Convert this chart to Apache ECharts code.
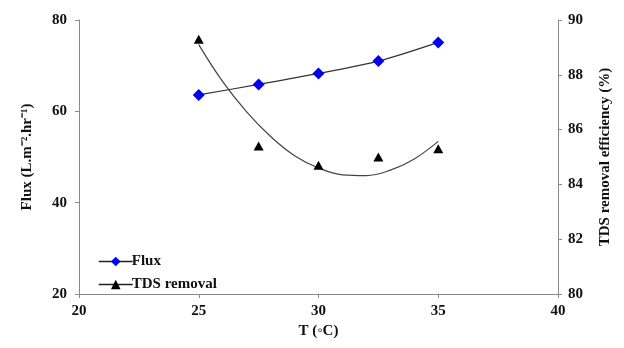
<!DOCTYPE html>
<html>
<head>
<meta charset="utf-8">
<script src="https://cdn.jsdelivr.net/npm/echarts@6/dist/echarts.min.js"></script>
<style>
  html, body { margin: 0; padding: 0; background: #fff; }
  #chart { width: 624px; height: 348px; }
</style>
</head>
<body>
<div id="chart"></div>
<script>
// Measured points (T in °C)
const temps = [25, 27.5, 30, 32.5, 35];
const flux = [63.6, 65.9, 68.3, 71.0, 75.1];
const tdsRemoval = [89.3, 85.4, 84.7, 85.0, 85.3];

// Trend curve for TDS removal
const trendTemps = [25, 26, 27, 28, 29, 30, 31, 32, 33, 34, 35];
const tdsTrend = [89.1, 87.75, 86.65, 85.75, 85.05, 84.6, 84.35, 84.32, 84.52, 84.93, 85.57];

const FONT = "'Liberation Serif', 'Times New Roman', serif";
const axisLine = { show: true, lineStyle: { color: "#8a8a8a", width: 1 } };
const axisTick = { show: true, length: 4, lineStyle: { color: "#8a8a8a" } };
const labelStyle = { color: "#111", fontFamily: FONT, fontWeight: "bold", fontSize: 15 };

const chart = echarts.init(document.getElementById("chart"));
chart.setOption({
  animation: false,
  grid: { left: 79, right: 66, top: 20, bottom: 54 },
  legend: {
    left: 93, top: 249, orient: "vertical", itemGap: 8,
    itemWidth: 34, itemHeight: 12,
    textStyle: { ...labelStyle, fontSize: 15, padding: [0, 0, 0, -6] },
    data: [
      { name: "Flux", lineStyle: { color: "#222", width: 1.5 } },
      { name: "TDS removal", lineStyle: { color: "#222", width: 1.5 } },
    ],
  },
  xAxis: {
    type: "value", min: 20, max: 40, interval: 5,
    name: "T (◦C)", nameLocation: "middle", nameGap: 30,
    nameTextStyle: labelStyle,
    axisLine, axisTick, splitLine: { show: false },
    axisLabel: { ...labelStyle, margin: 10 },
  },
  yAxis: [
    {
      type: "value", min: 20, max: 80, interval: 20,
      name: "Flux (L.m⁻².hr⁻¹)", nameLocation: "middle", nameGap: 44,
      nameTextStyle: labelStyle,
      axisLine, axisTick, splitLine: { show: false },
      axisLabel: { ...labelStyle, margin: 12 },
    },
    {
      type: "value", min: 80, max: 90, interval: 2, position: "right",
      name: "TDS removal efficiency (%)", nameLocation: "middle", nameGap: 40,
      nameRotate: 90,
      nameTextStyle: labelStyle,
      axisLine, axisTick, splitLine: { show: false },
      axisLabel: { ...labelStyle, margin: 10 },
    },
  ],
  series: [
    {
      name: "Flux", type: "line", smooth: 0.3,
      data: temps.map((t, i) => [t, flux[i]]),
      symbol: "diamond", symbolSize: 12,
      itemStyle: { color: "#0000ee" },
      lineStyle: { color: "#333", width: 1.2 },
    },
    {
      name: "TDS removal", type: "line", yAxisIndex: 1,
      data: temps.map((t, i) => [t, tdsRemoval[i]]),
      symbol: "triangle", symbolSize: [10, 9],
      itemStyle: { color: "#000" },
      lineStyle: { width: 0, color: "#000" },
    },
    {
      name: "TDS trend", type: "line", yAxisIndex: 1, smooth: 0.4,
      data: trendTemps.map((t, i) => [t, tdsTrend[i]]),
      showSymbol: false, symbol: "none",
      lineStyle: { color: "#444", width: 1.2 },
    },
  ],
});
</script>
</body>
</html>
